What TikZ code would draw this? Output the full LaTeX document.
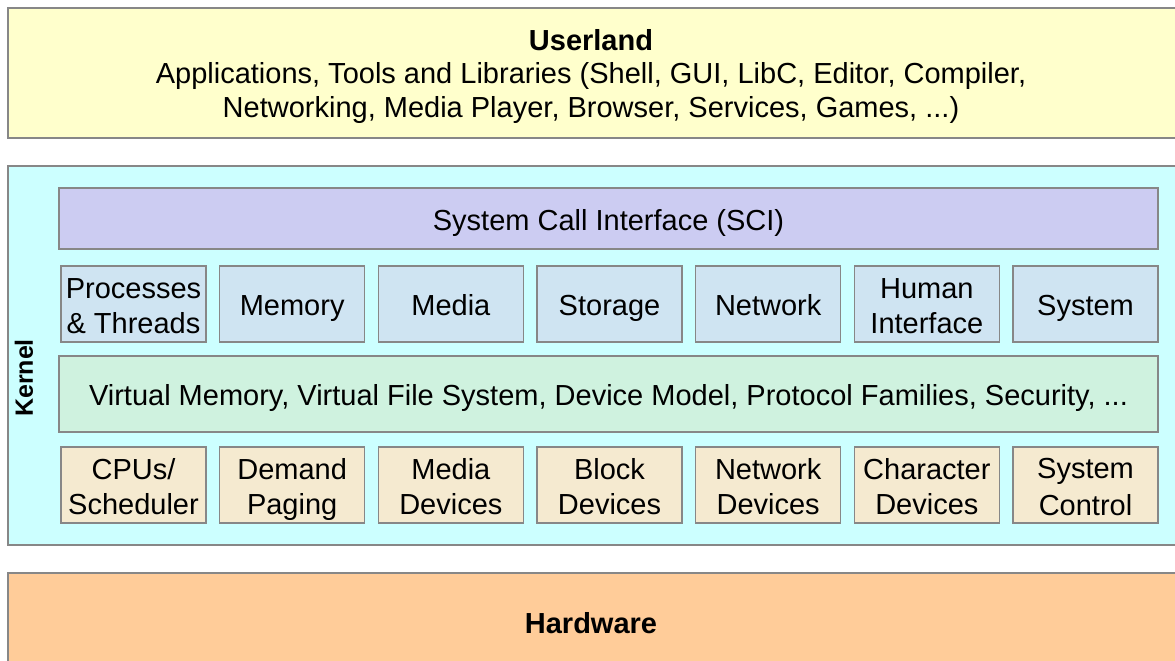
\documentclass[tikz,border=0pt]{standalone}
\usepackage{fontspec}
\setmainfont{Liberation Sans}
\definecolor{edge}{HTML}{878787}
\definecolor{userfill}{HTML}{FFFFCC}
\definecolor{kernelfill}{HTML}{CCFFFF}
\definecolor{scifill}{HTML}{CCCCF2}
\definecolor{subsysfill}{HTML}{CFE4F2}
\definecolor{corefill}{HTML}{CFF2DF}
\definecolor{drvfill}{HTML}{F5EAD0}
\definecolor{hwfill}{HTML}{FFCC99}
% line struts: box lines 35pt apart, caption lines 33.5pt apart
\newcommand{\bs}{\rule[-5.6pt]{0pt}{35pt}}
\newcommand{\cs}{\rule[-8.5pt]{0pt}{33.5pt}}
\begin{document}
\begin{tikzpicture}[x=1pt,y=-1pt,
  frame/.style={draw=edge, line width=1.6pt},
  txt/.style={align=center, inner sep=0pt, font=\fontsize{29}{35}\selectfont}]
\useasboundingbox (0,0) rectangle (1175,661);
\clip (0,0) rectangle (1175,661);

% outer layers
\draw[frame, fill=userfill]   (8,8)   rectangle (1190,138);
\draw[frame, fill=kernelfill] (8,166) rectangle (1190,545);
\draw[frame, fill=hwfill]     (8,573) rectangle (1190,673);

% layer captions
\node[txt, anchor=north, font=\fontsize{29}{33.5}\selectfont] (usertext) at (591,25)
  {\cs\textbf{Userland}\\
   \cs Applications, Tools and Libraries (Shell, GUI, LibC, Editor, Compiler,\\
   \cs Networking, Media Player, Browser, Services, Games, ...)};
\node[txt, font=\fontsize{29}{35}\selectfont\bfseries] (hwtext) at (591,623) {Hardware};
\node[inner sep=0pt, rotate=90, font=\fontsize{25}{28}\selectfont\bfseries] (kerneltext) at (24,378) {Kernel};

% system call interface
\draw[frame, fill=scifill] (59,188) rectangle (1158,249)
  node[txt, pos=.5] (sci) {\bs System Call Interface (SCI)};

% subsystems
\foreach \name/\lbl [count=\i from 0] in {
    proc/{\bs Processes\\\bs\& Threads}, mem/\bs Memory, media/\bs Media, stor/\bs Storage,
    net/\bs Network, hid/{\bs Human\\\bs Interface}, sys/\bs System}
  \draw[frame, fill=subsysfill] (61+\i*158.67,266) rectangle ++(145,76)
    node[txt, pos=.5] (\name) {\lbl};

% common core
\draw[frame, fill=corefill] (59,356) rectangle (1158,432)
  node[txt, pos=.5] (core)
  {\bs Virtual Memory, Virtual File System, Device Model, Protocol Families, Security, ...};

% drivers and architecture
\foreach \name/\lbl [count=\i from 0] in {
    cpu/{\bs CPUs/\\\bs Scheduler}, paging/{\bs Demand\\\bs Paging}, mdev/{\bs Media\\\bs Devices},
    bdev/{\bs Block\\\bs Devices}, ndev/{\bs Network\\\bs Devices}, cdev/{\bs Character\\\bs Devices},
    sctl/{\bs System\\\bs Control}}
  \draw[frame, fill=drvfill] (61+\i*158.67,447) rectangle ++(145,76)
    node[txt, pos=.5] (\name) {\lbl};
\end{tikzpicture}
\end{document}
